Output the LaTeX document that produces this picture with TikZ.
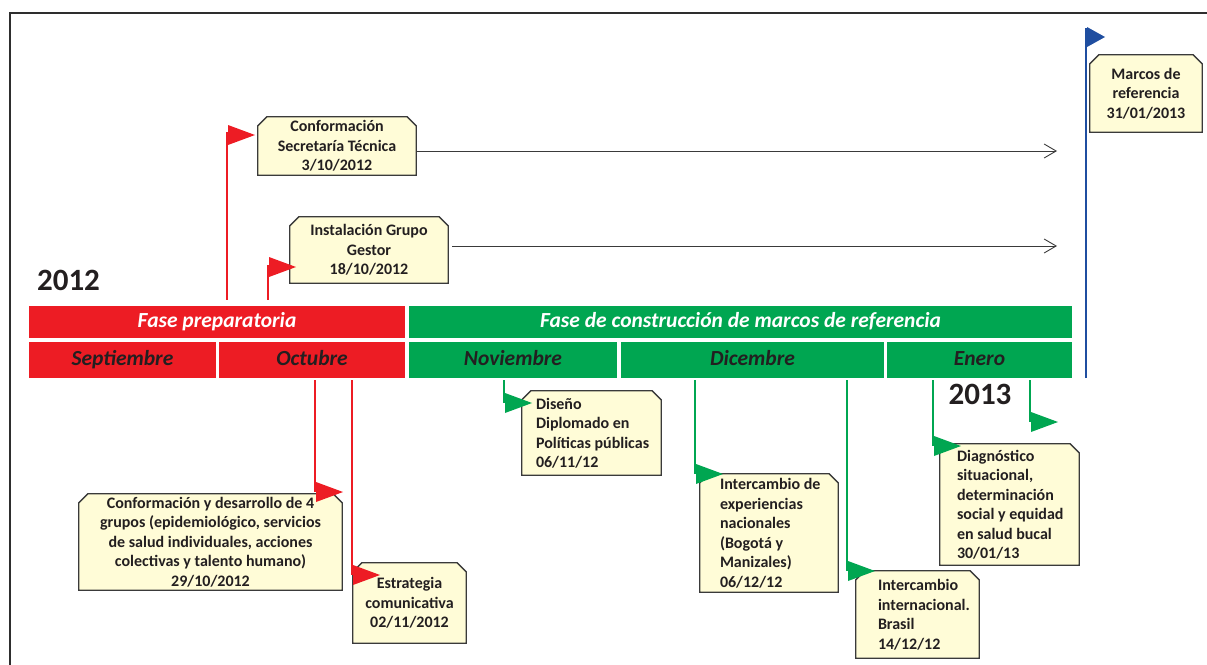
\documentclass[tikz,border=0pt]{standalone}
\usepackage{fontspec}
\setmainfont{Carlito}
\usetikzlibrary{arrows.meta,calc}
\definecolor{cred}{HTML}{ED1C24}
\definecolor{cgreen}{HTML}{00A651}
\definecolor{cblue}{HTML}{1F4EA0}
\definecolor{boxfill}{HTML}{FFFCD7}
\definecolor{boxline}{HTML}{3A3A3A}
\definecolor{ink}{HTML}{231F20}
\definecolor{framec}{HTML}{2E2E2E}
\pgfdeclarelayer{bg}
\pgfsetlayers{bg,main}
\begin{document}
\begin{tikzpicture}[x=1pt,y=-1pt,
  evbox/.style={rectangle, inner sep=0pt, align=center, text=ink,
     font=\fontsize{16}{19.5}\selectfont\bfseries},
  evtext/.style={inner sep=0pt, align=left, text=ink, anchor=west,
     font=\fontsize{16}{19.5}\selectfont\bfseries},
  outline/.style={draw=boxline, fill=boxfill, line width=1.3pt, line join=miter},
  bar/.style={rectangle, inner sep=0pt, text height=15pt, text depth=4pt,
     font=\fontsize{21.5}{24}\selectfont\bfseries\itshape},
  phase/.style={bar, text=white, minimum height=32pt},
  month/.style={bar, text=ink, minimum height=36pt},
  yr/.style={inner sep=0pt, text=ink, font=\fontsize{31}{36}\selectfont\bfseries},
  pole/.style={line width=2.2pt},
  lead/.style={draw=boxline, line width=0.9pt, -{Straight Barb[length=12pt,width=14pt,line width=0.9pt]}}
]
\useasboundingbox (0,0) rectangle (1207,664);
\draw[line width=2.6pt, framec] (10,700) -- (10,13) -- (1240,13);

% bars
\node[phase, fill=cred, minimum width=376pt] (fp) at (217,322) {Fase preparatoria};
\node[phase, fill=cgreen, minimum width=663pt] (fc) at (740.5,322) {Fase de construcción de marcos de referencia};
\node[month, fill=cred, minimum width=187pt] (sep) at (122.5,360) {Septiembre};
\node[month, fill=cred, minimum width=186pt] (oct) at (312,360) {Octubre};
\node[month, fill=cgreen, minimum width=208pt] (nov) at (513,360) {Noviembre};
\node[month, fill=cgreen, minimum width=263pt] (dic) at (752.5,360) {Dicembre};
\node[month, fill=cgreen, minimum width=185pt] (ene) at (979.5,360) {Enero};

\node[yr] (y12) at (68.5,280) {2012};
\node[yr] (y13) at (980,394) {2013};

% boxes
\node[evbox, minimum width=158pt, minimum height=58pt] (b1) at (337,146)
  {Conformación\\Secretaría Técnica\\3/10/2012};
\node[evbox, minimum width=158pt, minimum height=66pt] (b2) at (369,250)
  {Instalación Grupo\\Gestor\\18/10/2012};
\node[evbox, minimum width=112pt, minimum height=77pt] (bm) at (1146,93.5)
  {Marcos de\\referencia\\31/01/2013};
\node[evbox, minimum width=263pt, minimum height=96pt] (b3) at (210.5,542)
  {Conformación y desarrollo de 4\\grupos (epidemiológico, servicios\\de salud individuales, acciones\\colectivas y talento humano)\\29/10/2012};
\node[evbox, minimum width=113pt, minimum height=80pt] (b4) at (409.5,603)
  {Estrategia\\comunicativa\\02/11/2012};
\node[evbox, minimum width=139pt, minimum height=84pt] (b5) at (591.5,433) {};
\node[evtext] (b5t) at ($(b5.west)+(14,0)$) {Diseño\\Diplomado en\\Políticas públicas\\06/11/12};
\node[evbox, minimum width=138pt, minimum height=118pt] (b6) at (769,533) {};
\node[evtext] (b6t) at ($(b6.west)+(20,0)$) {Intercambio de\\experiencias\\nacionales\\(Bogotá y\\Manizales)\\06/12/12};
\node[evbox, minimum width=123pt, minimum height=87pt] (b7) at (917.5,614.5) {};
\node[evtext] (b7t) at ($(b7.west)+(22,0)$) {Intercambio\\internacional.\\Brasil\\14/12/12};
\node[evbox, minimum width=139pt, minimum height=121pt] (b8) at (1009.5,504.5) {};
\node[evtext] (b8t) at ($(b8.west)+(17,0)$) {Diagnóstico\\situacional,\\determinación\\social y equidad\\en salud bucal\\30/01/13};

\begin{pgfonlayer}{bg}
\foreach \b in {b1,b2,bm,b3,b4,b5,b6,b7,b8}{
  \draw[outline] (\b.south west) -- ($(\b.north west)+(0,9)$) -- ($(\b.north west)+(9,0)$)
     -- ($(\b.north east)+(-9,0)$) -- ($(\b.north east)+(0,9)$) -- (\b.south east) -- cycle;
}
\end{pgfonlayer}

% leader arrows
\coordinate (e1) at (1057,151);
\coordinate (e2) at (1057,246);
\draw[lead] (b1.east |- e1) -- (e1);
\draw[lead] ($(b2.east |- e2)+(4,0)$) -- (e2);

% upper flags
\coordinate (f1) at (227,132);
\coordinate (f2) at (268,265);
\draw[pole, cred] ($(fp.north -| f1)+(0,-6)$) -- (f1);
\fill[cred] (f1) ++(1,-7) -- ++(27,10) -- ++(-27,10) -- cycle;
\draw[pole, cred] ($(fp.north -| f2)+(0,-6)$) -- (f2);
\fill[cred] (f2) ++(1,-8) -- ++(27,10) -- ++(-27,10) -- cycle;

% blue flag
\coordinate (fb) at (1086,28);
\draw[pole, cblue] (ene.south -| fb) -- (fb);
\fill[cblue] (fb) ++(1,-1) -- ++(18,10) -- ++(-18,10) -- cycle;

% lower flags
\coordinate (f3) at (315,492);
\coordinate (f4) at (352,575);
\coordinate (f5) at (504,403);
\coordinate (f6) at (695,474);
\coordinate (f7) at (847,571);
\coordinate (f8) at (933,446);
\coordinate (f9) at (1030,422);
\foreach \f/\m/\c in {f3/oct/cred,f4/oct/cred,f5/nov/cgreen,f6/dic/cgreen,f7/dic/cgreen,f8/ene/cgreen,f9/ene/cgreen}{
  \draw[pole, \c] ($(\m.south -| \f)+(0,2)$) -- (\f);
  \fill[\c] (\f) ++(1,-10) -- ++(27,10) -- ++(-27,10) -- cycle;
}
\end{tikzpicture}
\end{document}
